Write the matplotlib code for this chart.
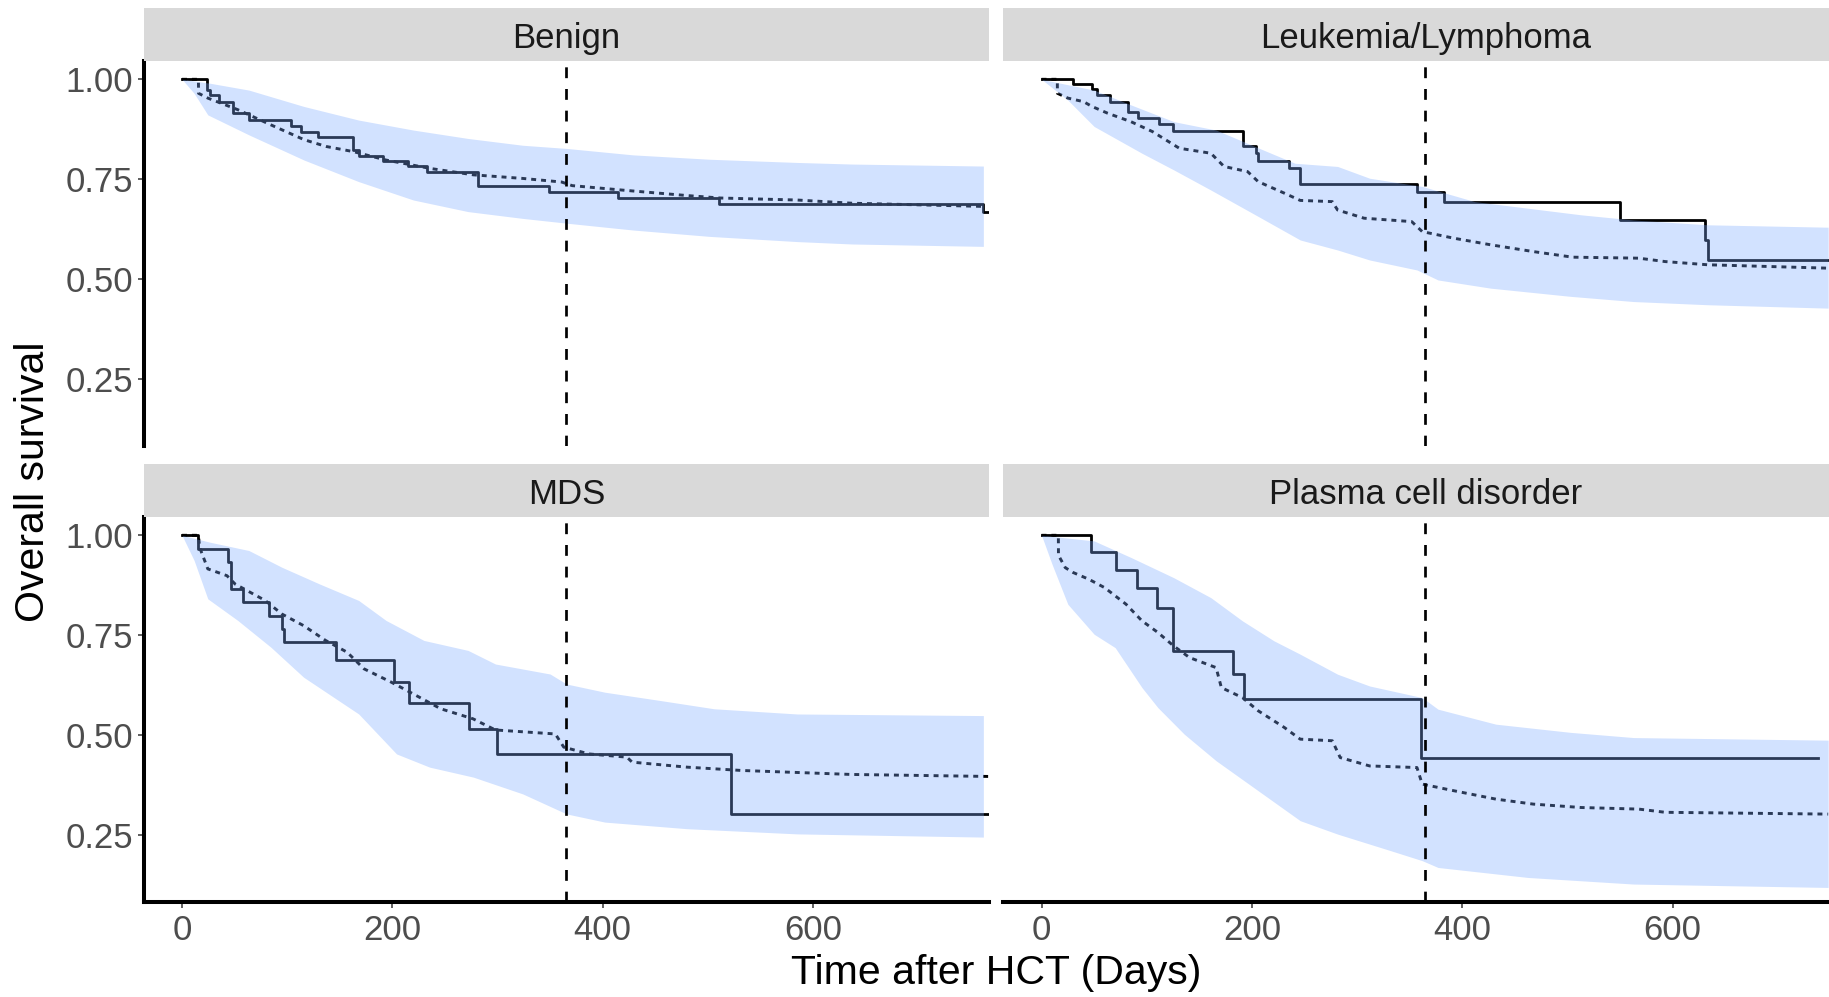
import numpy as np
import matplotlib.pyplot as plt

plt.rcParams['font.family'] = ['Liberation Sans', 'DejaVu Sans']

# ---- data (days, survival) ----
groups = ['Benign', 'Leukemia/Lymphoma', 'MDS', 'Plasma cell disorder']

# Kaplan-Meier steps (observed)
benign_km_t = [0, 23.5, 27, 35, 48, 63.6, 104, 113, 129, 163, 168, 191, 215, 233, 281.5, 349, 414.5, 511, 762, 770]
benign_km_s = [1.0, 0.973, 0.961, 0.944, 0.915, 0.898, 0.882, 0.869, 0.855, 0.823, 0.808, 0.796, 0.783, 0.767, 0.733, 0.719, 0.704, 0.688, 0.669, 0.669]
leuk_km_t = [0, 30, 47.8, 52.8, 65.4, 82, 91.5, 112, 124.7, 192, 203.6, 206, 235, 246, 357, 383, 550.5, 631, 634, 770]
leuk_km_s = [1.0, 0.988, 0.975, 0.961, 0.944, 0.919, 0.9025, 0.888, 0.871, 0.833, 0.815, 0.796, 0.7775, 0.738, 0.717, 0.692, 0.648, 0.598, 0.548, 0.548]
mds_km_t = [0, 15.6, 44, 47, 58, 83, 95, 97.4, 146, 201.5, 216, 273, 299.5, 522, 770]
mds_km_s = [1.0, 0.966, 0.9325, 0.866, 0.8325, 0.799, 0.766, 0.7325, 0.687, 0.634, 0.581, 0.516, 0.4517, 0.3017, 0.3017]
plasma_km_t = [0, 46.8, 70.4, 90.5, 109.6, 124.7, 182.5, 192.6, 361, 738]
plasma_km_s = [1.0, 0.957, 0.9125, 0.8675, 0.819, 0.711, 0.6525, 0.59, 0.444, 0.444]

# model estimate (dotted)
benign_mod_t = [0, 15.6, 15.7, 24.5, 53, 84.5, 116, 137, 163, 194, 236, 277, 324, 361, 371, 418, 481, 512, 585, 637, 762]
benign_mod_s = [1.0, 1.0, 0.965, 0.953, 0.924, 0.886, 0.849, 0.832, 0.819, 0.798, 0.777, 0.761, 0.752, 0.743, 0.734, 0.723, 0.709, 0.703, 0.698, 0.690, 0.682]
leuk_mod_t = [0, 15, 15.1, 25, 40, 48, 63, 85, 105.6, 131, 161, 173.5, 196, 206, 231, 246, 276.5, 281.5, 306.7, 352, 362, 392, 427, 467.6, 505, 568, 593, 633.5, 748]
leuk_mod_s = [1.0, 1.0, 0.965, 0.953, 0.944, 0.932, 0.915, 0.894, 0.869, 0.8275, 0.815, 0.782, 0.769, 0.744, 0.715, 0.697, 0.694, 0.673, 0.6525, 0.644, 0.619, 0.6025, 0.586, 0.569, 0.555, 0.5525, 0.544, 0.536, 0.5275]
mds_mod_t = [0, 15.6, 16.7, 24.5, 42.7, 50.5, 79, 95, 115.6, 136.5, 157, 173, 199, 220, 246, 276.6, 298, 355, 363, 387, 423, 428, 480, 532, 636.5, 767]
mds_mod_s = [1.0, 1.0, 0.97, 0.916, 0.899, 0.878, 0.837, 0.803, 0.774, 0.737, 0.7075, 0.666, 0.6325, 0.603, 0.566, 0.541, 0.513, 0.503, 0.47, 0.453, 0.445, 0.4325, 0.42, 0.4117, 0.4017, 0.3967]
plasma_mod_t = [0, 16, 16.1, 22.6, 30, 45, 60, 80.4, 95.5, 110.6, 125.7, 140.8, 166, 171, 191, 206, 231, 246, 276.5, 284, 312, 357, 362, 392, 432, 467.6, 513, 568, 593, 748]
plasma_mod_s = [1.0, 1.0, 0.95, 0.919, 0.907, 0.89, 0.869, 0.8275, 0.786, 0.757, 0.723, 0.694, 0.669, 0.619, 0.594, 0.561, 0.519, 0.49, 0.486, 0.444, 0.423, 0.419, 0.3775, 0.361, 0.34, 0.3275, 0.319, 0.315, 0.307, 0.3025]

# confidence band
benign_up_t = [0, 27, 63.6, 116, 168, 220, 272, 324, 366, 428.6, 501.6, 585, 637, 762]
benign_up_s = [1.0, 0.990, 0.973, 0.932, 0.898, 0.873, 0.852, 0.835, 0.827, 0.811, 0.800, 0.792, 0.788, 0.783]
benign_lo_t = [0, 11.5, 24.5, 63.6, 116, 168, 220, 272, 324, 366, 428.6, 501.6, 585, 637, 762]
benign_lo_s = [1.0, 0.965, 0.911, 0.861, 0.798, 0.744, 0.698, 0.669, 0.652, 0.640, 0.623, 0.607, 0.594, 0.588, 0.582]
leuk_up_t = [0, 50, 85, 126, 166, 211, 241, 281.5, 312, 362, 412, 462.5, 513, 563, 633.5, 748]
leuk_up_s = [1.0, 0.973, 0.936, 0.894, 0.873, 0.823, 0.79, 0.782, 0.7525, 0.732, 0.694, 0.6775, 0.661, 0.648, 0.636, 0.63]
leuk_lo_t = [0, 25, 50, 95.5, 126, 161, 206, 246, 281.5, 312, 357, 377, 427, 503, 563, 633.5, 748]
leuk_lo_s = [1.0, 0.948, 0.882, 0.815, 0.773, 0.723, 0.657, 0.598, 0.573, 0.548, 0.523, 0.498, 0.4775, 0.457, 0.444, 0.436, 0.4275]
mds_up_t = [0, 27, 63.5, 95, 131, 168, 194, 230, 272, 298, 350, 365.6, 402, 454, 506, 585, 762]
mds_up_s = [1.0, 0.9825, 0.962, 0.92, 0.878, 0.837, 0.787, 0.737, 0.712, 0.678, 0.653, 0.628, 0.6075, 0.587, 0.566, 0.553, 0.549]
mds_lo_t = [0, 11.5, 24.5, 53, 84.5, 115.6, 168, 204, 235.4, 277, 324, 365.6, 402, 480, 585, 762]
mds_lo_s = [1.0, 0.937, 0.841, 0.787, 0.72, 0.645, 0.553, 0.453, 0.42, 0.395, 0.353, 0.303, 0.2825, 0.266, 0.253, 0.245]
plasma_up_t = [0, 50, 85.5, 125.7, 161, 191, 221, 246, 281.5, 312, 362, 377, 432, 503, 563, 748]
plasma_up_s = [1.0, 0.986, 0.944, 0.894, 0.844, 0.786, 0.736, 0.7025, 0.6525, 0.623, 0.594, 0.565, 0.5275, 0.507, 0.494, 0.4875]
plasma_lo_t = [0, 10, 25, 50, 70, 95.5, 110.6, 135.7, 166, 206, 246, 281.5, 332, 362, 377, 462.5, 563, 748]
plasma_lo_s = [1.0, 0.9275, 0.8275, 0.7525, 0.719, 0.619, 0.569, 0.5025, 0.436, 0.361, 0.286, 0.2525, 0.211, 0.186, 0.169, 0.144, 0.1275, 0.119]

cutoff_day = 365
x_ticks = [0, 200, 400, 600]
y_ticks = [0.25, 0.50, 0.75, 1.00]
y_tick_labels = ['0.25', '0.50', '0.75', '1.00']

panels = [
    (benign_km_t, benign_km_s, benign_mod_t, benign_mod_s, benign_up_t, benign_up_s, benign_lo_t, benign_lo_s),
    (leuk_km_t, leuk_km_s, leuk_mod_t, leuk_mod_s, leuk_up_t, leuk_up_s, leuk_lo_t, leuk_lo_s),
    (mds_km_t, mds_km_s, mds_mod_t, mds_mod_s, mds_up_t, mds_up_s, mds_lo_t, mds_lo_s),
    (plasma_km_t, plasma_km_s, plasma_mod_t, plasma_mod_s, plasma_up_t, plasma_up_s, plasma_lo_t, plasma_lo_s),
]

W, H = 1829, 997
fig = plt.figure(figsize=(W / 100, H / 100), dpi=100)


def box(x0, y0, x1, y1):
    return [x0 / W, 1 - y1 / H, (x1 - x0) / W, (y1 - y0) / H]


cols = [(143.6, 989.2), (1003.1, 1848.7)]
rows = [(8, 61, 446), (464, 517, 902)]   # strip top, panel top, panel bottom
band_col = (125 / 255, 170 / 255, 1.0)

for k, (name, p) in enumerate(zip(groups, panels)):
    r, c = divmod(k, 2)
    x0, x1 = cols[c]
    st, pt, pb = rows[r]
    km_t, km_s, mod_t, mod_s, up_t, up_s, lo_t, lo_s = p

    ax = fig.add_axes(box(x0, pt, x1, pb))
    ax.step(km_t, km_s, where='post', color='black', lw=2.0, zorder=2)
    ax.plot(mod_t, mod_s, color='black', lw=2.1, dashes=(1.7, 1.7), zorder=2)
    # band sits on top of the lines, so they show through as navy
    band_t = np.union1d(up_t, lo_t)
    ax.fill_between(band_t, np.interp(band_t, lo_t, lo_s), np.interp(band_t, up_t, up_s),
                    color=band_col, alpha=0.34, lw=0, zorder=3)
    ax.axvline(cutoff_day, color='black', lw=1.95, dashes=(4, 4), zorder=4)

    ax.set_xlim(-36.55, 767.55)
    ax.set_ylim(0.0826, 1.0458)
    for s in ax.spines.values():
        s.set_visible(False)
    ax.tick_params(colors='#333333', labelcolor='#4D4D4D', labelsize=25, length=4.3, width=1.1)
    if c == 0:
        ax.spines['left'].set_visible(True)
        ax.spines['left'].set_linewidth(2.9)
        ax.set_yticks(y_ticks)
        ax.set_yticklabels(y_tick_labels)
        ax.tick_params(axis='y', pad=3)
    else:
        ax.set_yticks([])
    if r == 1:
        ax.spines['bottom'].set_visible(True)
        ax.spines['bottom'].set_linewidth(2.9)
        ax.set_xticks(x_ticks)
        ax.tick_params(axis='x', pad=4)
    else:
        ax.set_xticks([])

    sax = fig.add_axes(box(x0, st, x1, pt))
    sax.set_facecolor('#D9D9D9')
    sax.set_xticks([])
    sax.set_yticks([])
    for s in sax.spines.values():
        s.set_visible(False)
    sax.text(0.5, 0.42, name, ha='center', va='center', fontsize=25, color='#1A1A1A',
             transform=sax.transAxes)

fig.text(33 / W, 1 - 482 / H, 'Overall survival', rotation=90, ha='center', va='center', fontsize=29.5)
fig.text(996 / W, 1 - 973 / H, 'Time after HCT (Days)', ha='center', va='center', fontsize=29.5)

fig.savefig('out.png', dpi=100)
